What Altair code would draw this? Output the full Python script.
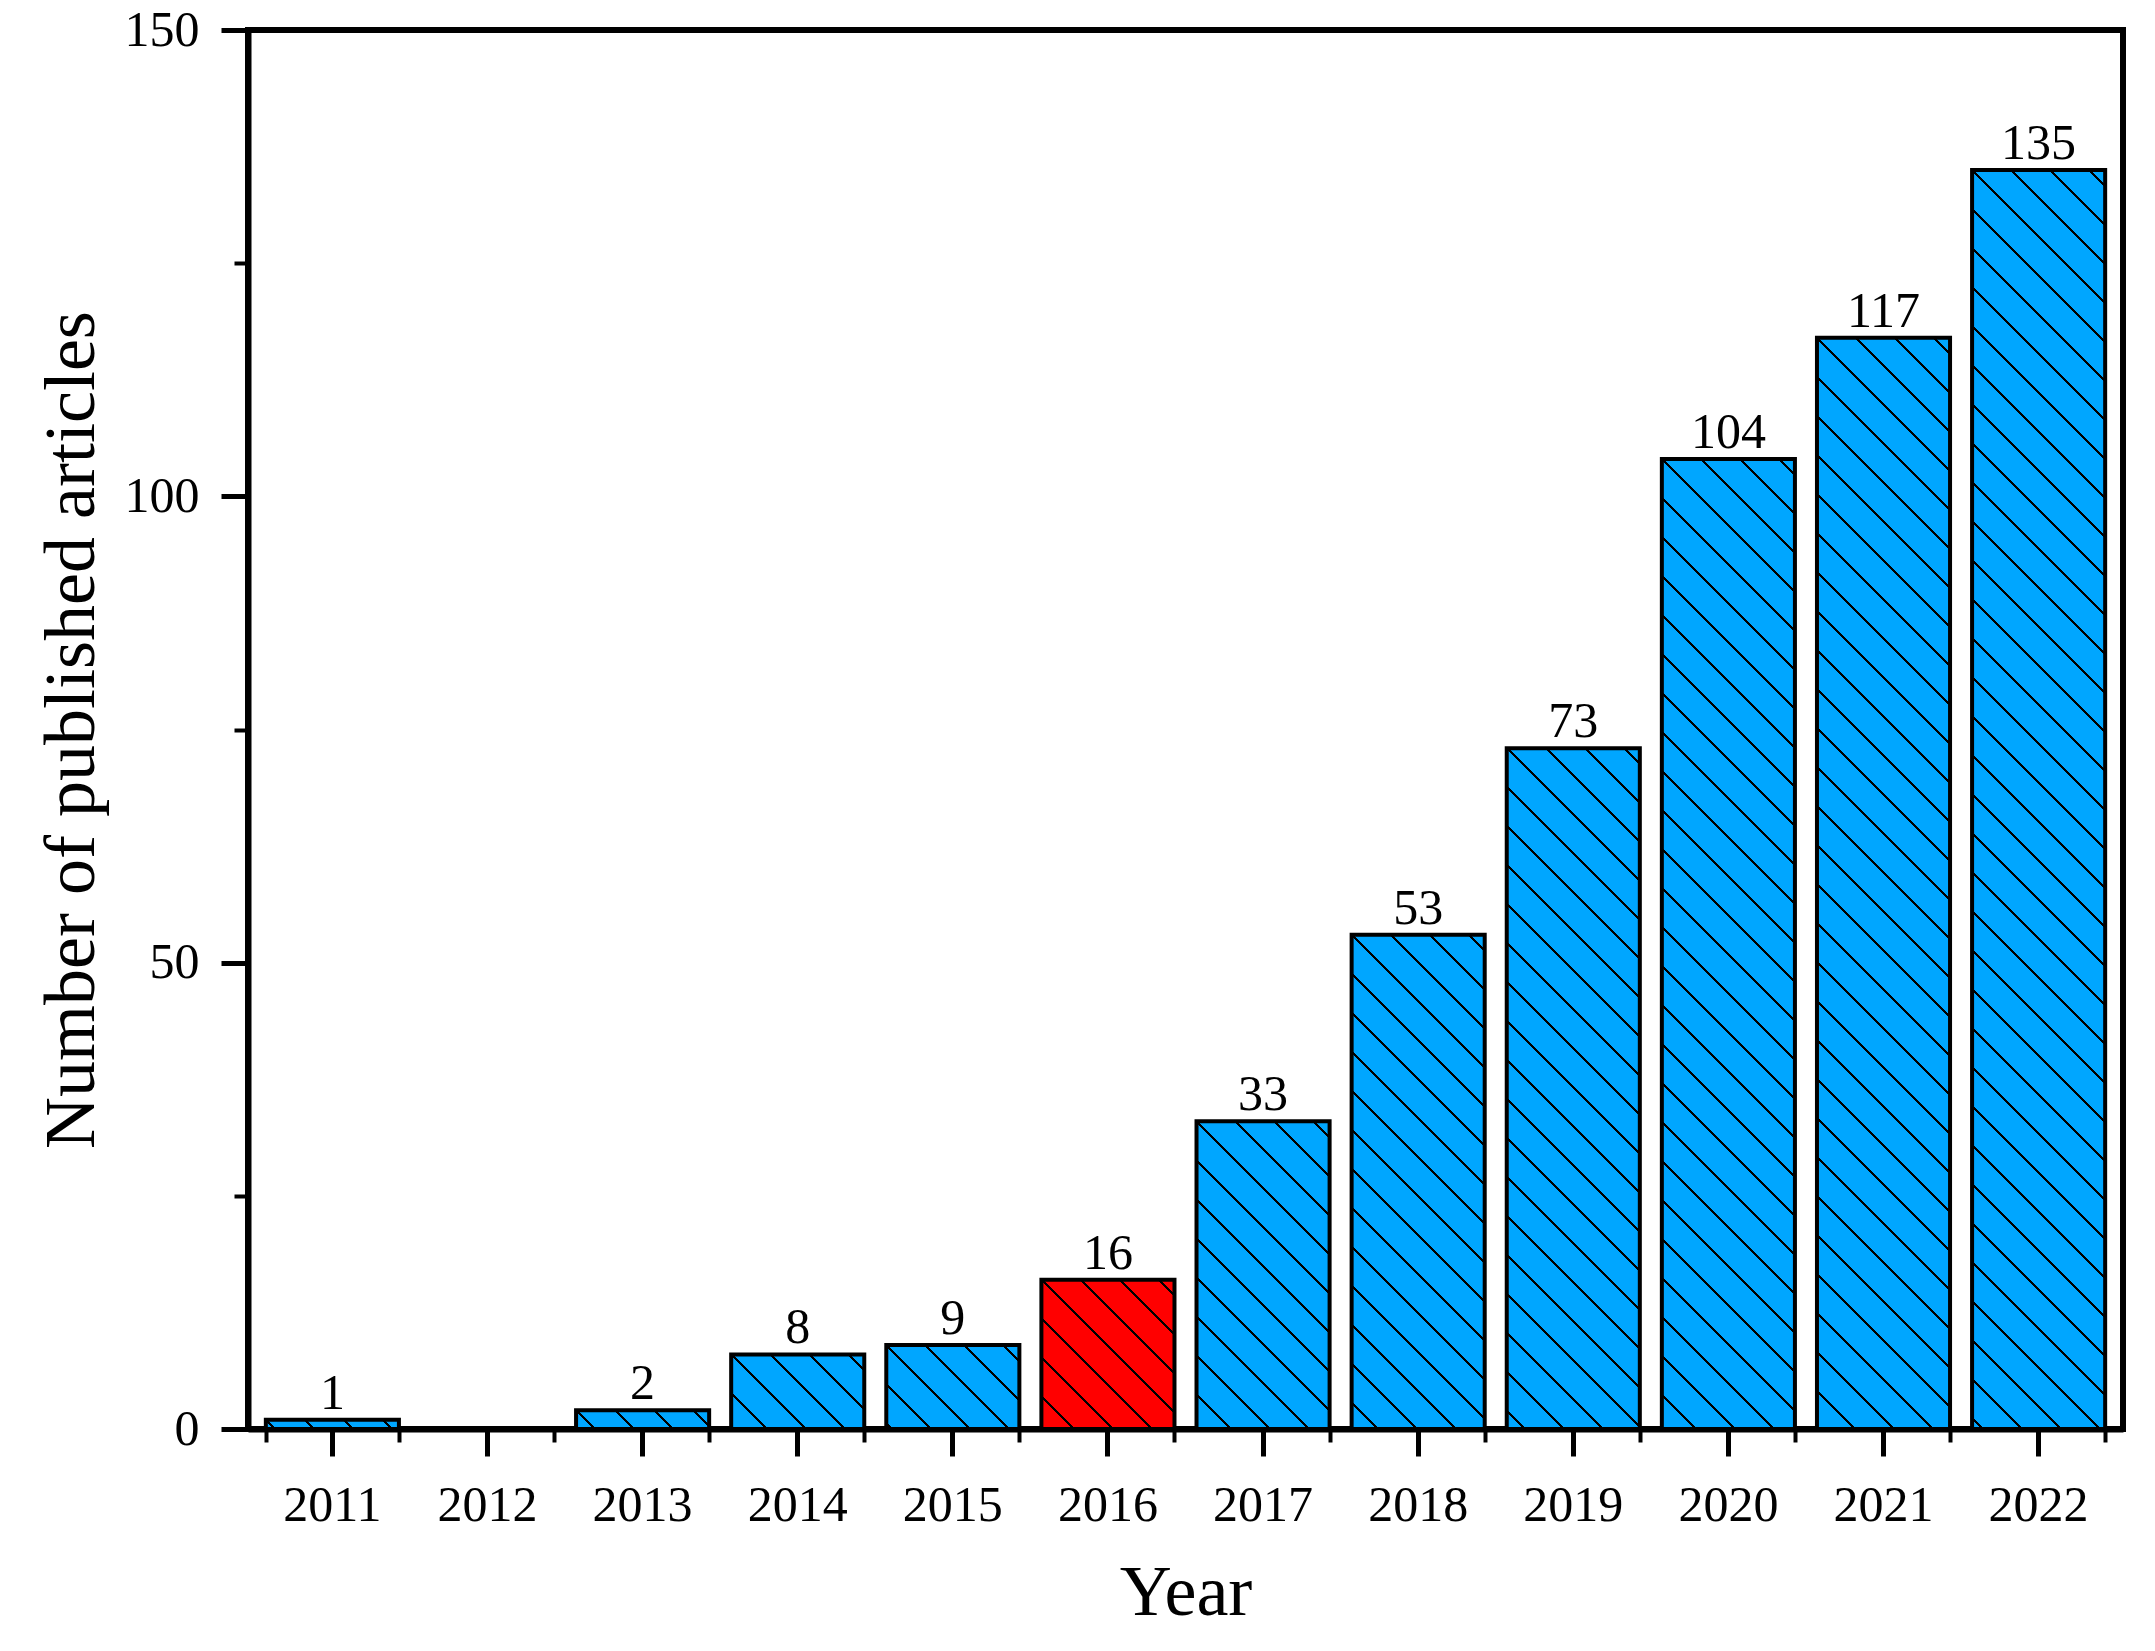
import altair as alt
import pandas as pd

# ---- data ----
years = ["2011", "2012", "2013", "2014", "2015", "2016",
         "2017", "2018", "2019", "2020", "2021", "2022"]
counts = [1, 0, 2, 8, 9, 16, 33, 53, 73, 104, 117, 135]
highlight_years = ["2016"]
y_major_ticks = [0, 50, 100, 150]
y_minor_ticks = [25, 75, 125]

# ---- style constants ----
BLUE = "#00A6FF"
RED = "#FF0000"
FONT = "Liberation Serif"
PLOT_W, PLOT_H = 1875, 1399
Y_MAX = 150
PAD_IN, PAD_OUT = 0.142, 0.115
HATCH_GAP = 39.0   # horizontal distance between hatch lines (px)
HATCH_W = 3.0      # hatch line thickness measured horizontally (px)

df = pd.DataFrame({"year": years, "count": counts})
df["color"] = [RED if y in highlight_years else BLUE for y in years]

step = PLOT_W / (len(years) - PAD_IN + 2 * PAD_OUT)
band_w = step * (1 - PAD_IN)


def hatch_fill(value, color):
    """Linear gradient (bounding-box units) that draws 45-degree '\\' hatch lines."""
    w = band_w
    h = value * PLOT_H / Y_MAX
    L = w + h
    s = L / (w * w + h * h)
    a, b = s * w, s * h
    half = HATCH_W / 2 / L
    stops = []
    k_min = -int(h // HATCH_GAP) - 1
    k_max = int(w // HATCH_GAP) + 1
    for k in range(k_min, k_max + 1):
        t = (h + k * HATCH_GAP) / L
        t0 = min(1.0, max(0.0, t - half))
        t1 = min(1.0, max(0.0, t + half))
        if t1 <= t0:
            continue
        stops += [(t0, color), (t0, "black"), (t1, "black"), (t1, color)]
    if not stops:
        stops = [(0.0, color), (1.0, color)]
    return {
        "gradient": "linear",
        "x1": 0, "y1": 1, "x2": a, "y2": 1 - b,
        "stops": [{"offset": round(o, 6), "color": c} for o, c in stops],
    }


x_scale = alt.Scale(domain=years, paddingInner=PAD_IN, paddingOuter=PAD_OUT)
y_scale = alt.Scale(domain=[0, Y_MAX], nice=False, zero=True)

x_main_axis = alt.Axis(
    orient="bottom", values=years, tickSize=27, tickWidth=5, tickColor="black",
    domainWidth=6, domainColor="black", labelFont=FONT, labelFontSize=50,
    labelColor="black", labelAngle=0, labelBaseline="alphabetic", labelPadding=64,
    title="Year", titleFont=FONT, titleFontSize=72, titleFontWeight="normal",
    titleColor="black", titleBaseline="alphabetic", titleY=185, grid=False,
)
y_main_axis = alt.Axis(
    orient="left", values=y_major_ticks, tickSize=27, tickWidth=5, tickColor="black",
    domainWidth=6, domainColor="black", labelFont=FONT, labelFontSize=50,
    labelColor="black", labelPadding=22, labelBaseline="middle",
    title="Number of published articles", titleFont=FONT, titleFontSize=72,
    titleFontWeight="normal", titleColor="black", titleBaseline="alphabetic",
    titleAngle=-90, titleX=-155, titleY=PLOT_H / 2, titleAlign="center", grid=False,
)
x_minor_axis = alt.Axis(
    orient="bottom", tickBand="extent", tickSize=13, tickWidth=4, tickColor="black",
    labels=False, domain=False, title=None, grid=False,
)
y_minor_axis = alt.Axis(
    orient="left", values=y_minor_ticks, tickSize=14, tickWidth=4, tickColor="black",
    labels=False, domain=False, title=None, grid=False,
)

base = alt.Chart(df)
layers = []
first = True
for yr, val, col in zip(df["year"], df["count"], df["color"]):
    if val <= 0:
        continue
    layer = base.transform_filter(alt.datum.year == yr).mark_bar(
        fill=hatch_fill(val, col), stroke="black", strokeWidth=4
    ).encode(
        x=alt.X("year:N", sort=years, scale=x_scale,
                axis=x_main_axis if first else None),
        y=alt.Y("count:Q", scale=y_scale, axis=y_main_axis if first else None),
    )
    first = False
    layers.append(layer)

labels = base.transform_filter(alt.datum.count > 0).mark_text(
    font=FONT, fontSize=50, color="black", baseline="alphabetic", dy=-11
).encode(
    x=alt.X("year:N", sort=years, scale=x_scale, axis=x_minor_axis),
    y=alt.Y("count:Q", scale=y_scale, axis=y_minor_axis),
    text=alt.Text("count:Q"),
)
layers.append(labels)

chart = alt.layer(*layers).resolve_axis(
    x="independent", y="independent"
).properties(
    width=PLOT_W, height=PLOT_H,
    autosize=alt.AutoSizeParams(type="none"),
    padding={"left": 240, "top": 22, "right": 24, "bottom": 214},
    background="white",
).configure_view(
    stroke="black", strokeWidth=6
).configure_axis(grid=False)

chart.save("out.html", embed_options={"renderer": "svg", "actions": False})
